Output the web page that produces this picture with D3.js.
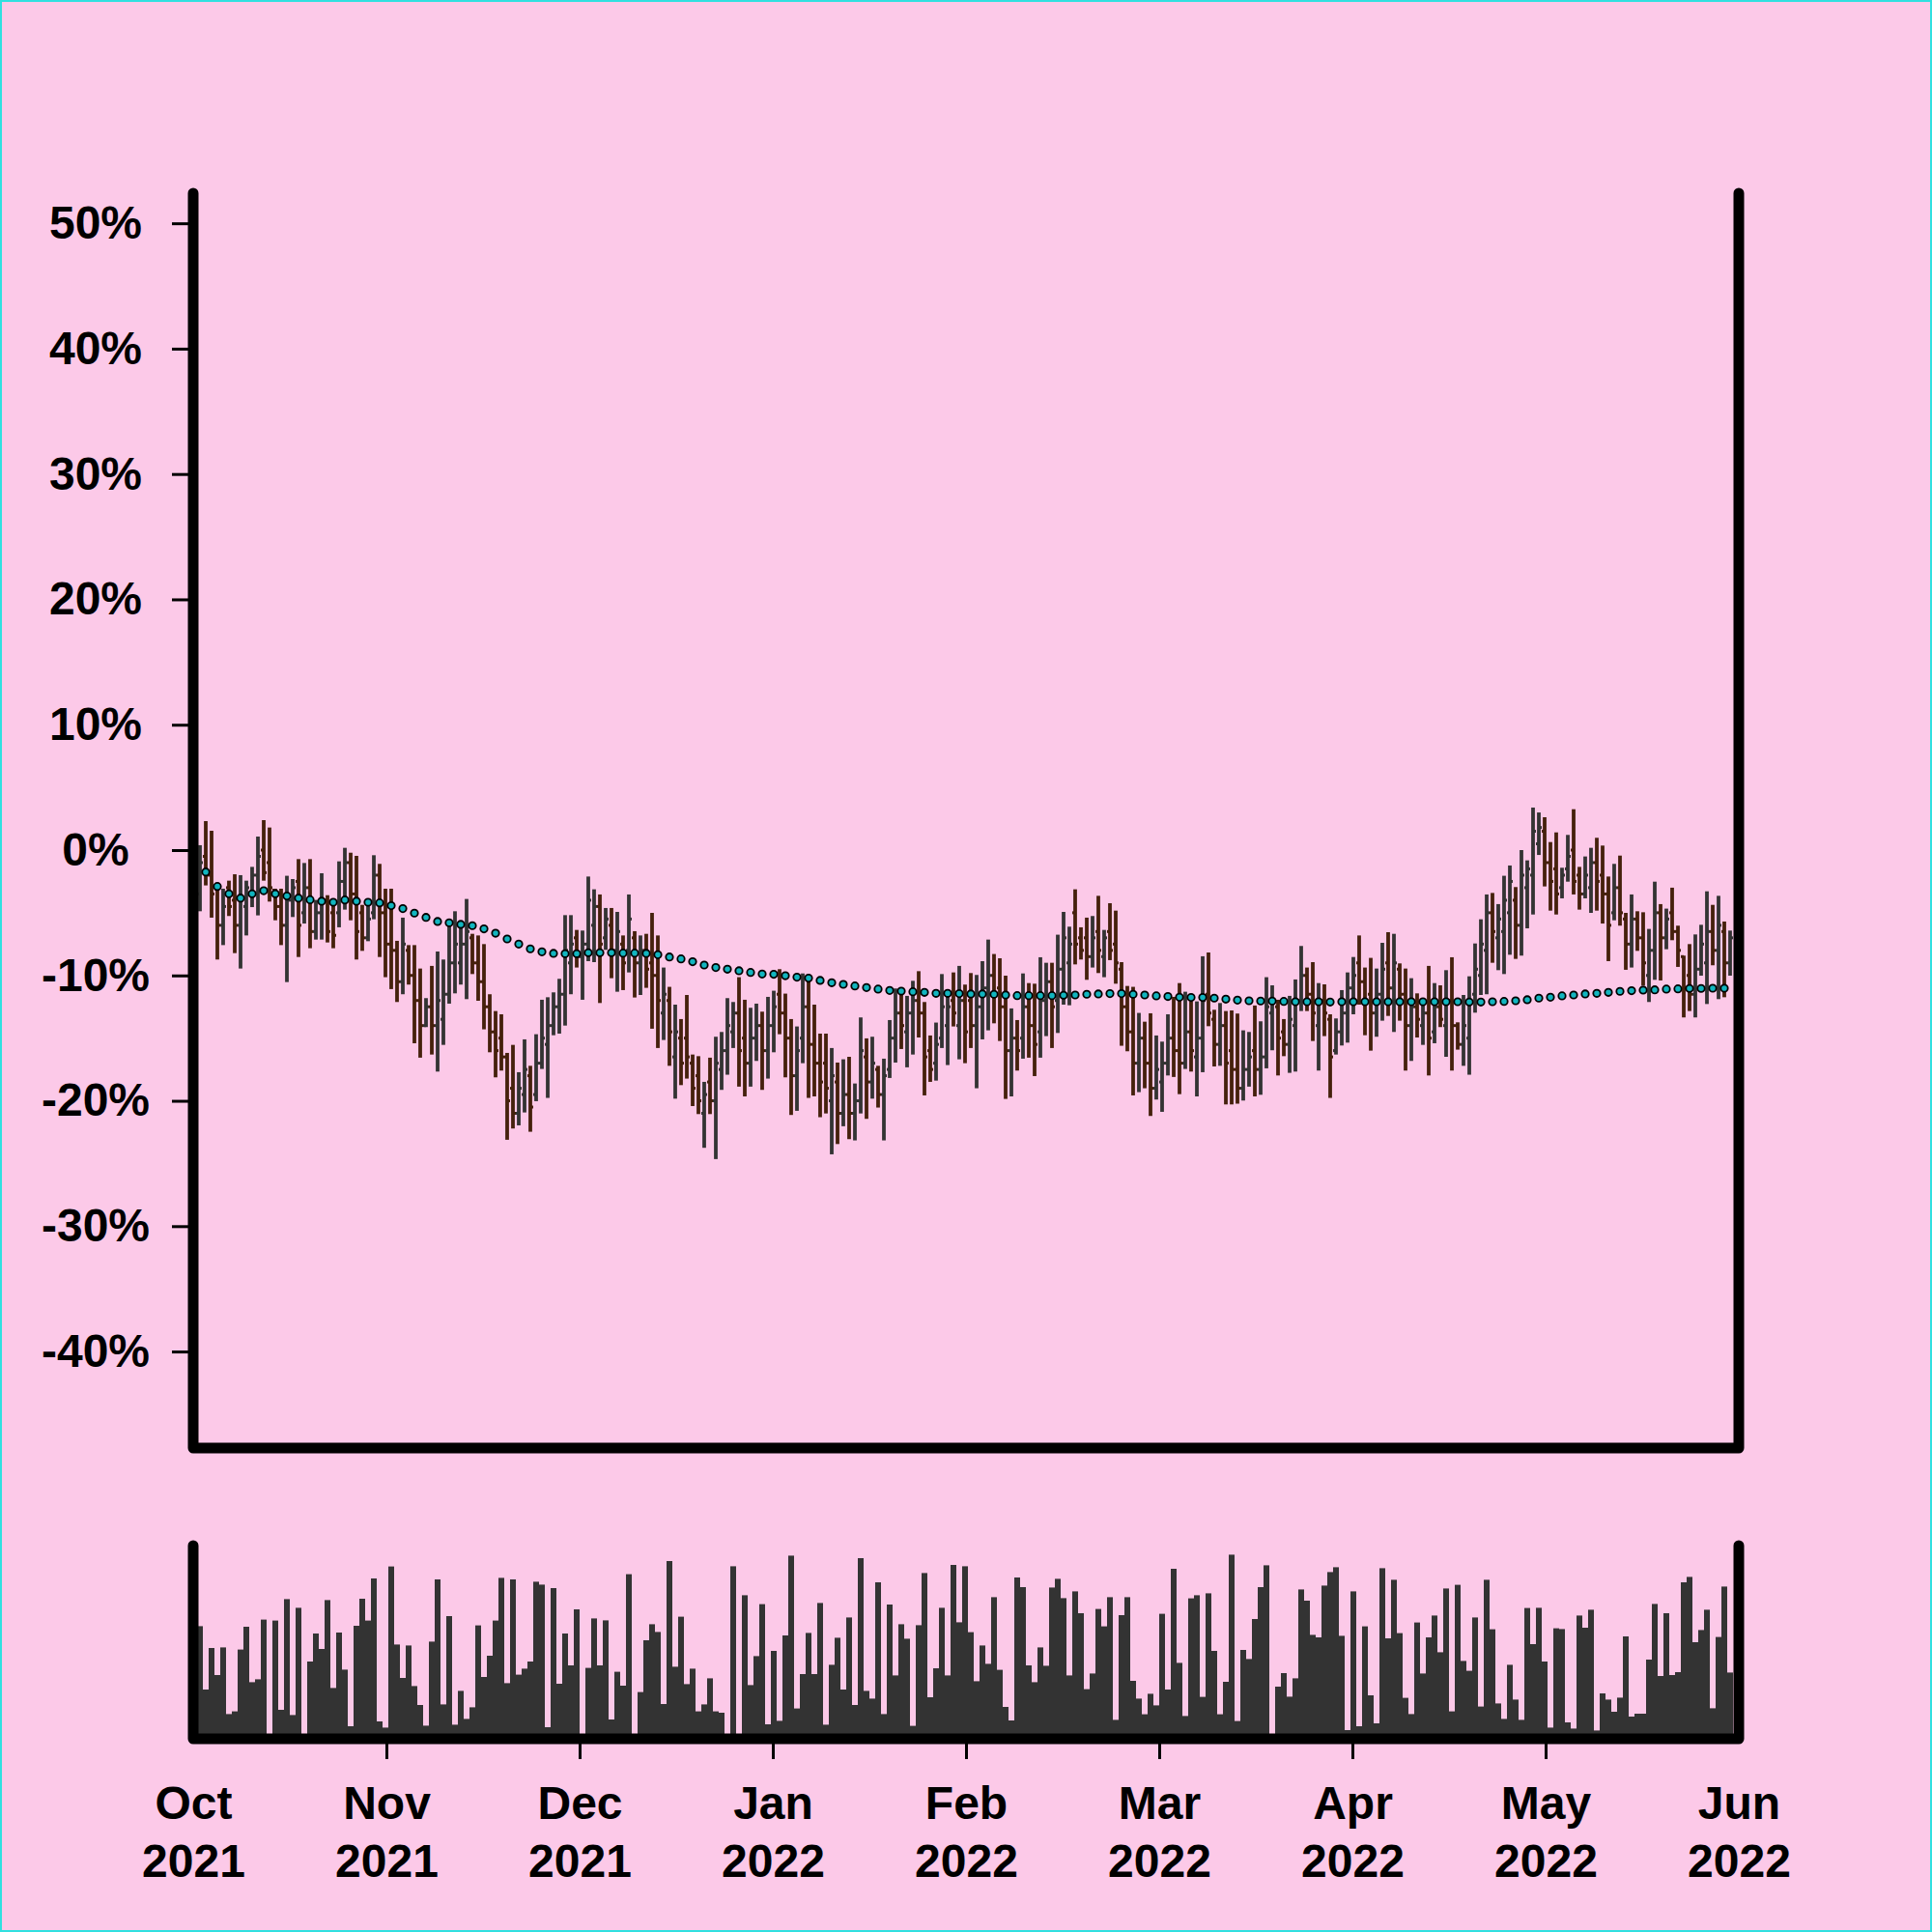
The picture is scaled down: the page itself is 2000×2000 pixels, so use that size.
<!DOCTYPE html>
<html><head><meta charset="utf-8">
<script src="https://cdn.jsdelivr.net/npm/d3@7"></script>
<style>html,body{margin:0;padding:0;background:#FCC9E8;}svg{display:block}</style>
</head><body>
<svg id="chart" width="2000" height="2000"></svg>
<script>
// ---- data (percent change) ----
const high=[0.39,2.31,1.54,-3.08,-3.08,-2.44,-1.93,-2.00,-2.44,-1.34,
1.08,2.39,1.80,-3.08,-3.08,-2.05,-2.31,-0.72,-1.03,-0.72,
-3.98,-1.85,-3.60,-4.24,-0.90,0.18,-0.21,-0.46,-4.37,-4.37,
-0.41,-1.10,-3.08,-3.08,-7.24,-5.39,-7.58,-7.58,-9.45,-11.81,
-9.24,-8.09,-8.73,-5.65,-4.88,-6.03,-3.90,-6.68,-6.81,-7.50,
-11.50,-12.84,-13.10,-16.18,-15.54,-17.72,-15.10,-17.21,-14.69,-11.94,
-11.74,-11.35,-10.27,-5.19,-5.19,-6.37,-6.42,-2.11,-3.13,-3.54,
-4.62,-4.62,-4.93,-6.81,-3.54,-6.47,-6.81,-6.68,-5.01,-6.81,
-9.37,-10.91,-12.33,-13.48,-11.56,-16.31,-16.44,-18.49,-16.56,-14.89,
-14.51,-11.81,-12.12,-10.14,-11.94,-12.58,-12.25,-12.89,-11.71,-11.22,
-9.50,-11.45,-13.48,-14.07,-9.84,-10.22,-12.33,-14.64,-14.64,-15.79,
-16.95,-16.69,-16.49,-18.62,-13.35,-15.02,-14.89,-17.21,-16.64,-13.56,
-11.04,-11.09,-11.63,-10.43,-9.66,-12.12,-14.79,-13.76,-9.89,-11.30,
-9.76,-9.24,-10.73,-9.81,-9.96,-8.86,-7.14,-8.29,-8.63,-10.02,
-12.63,-13.56,-9.84,-10.61,-10.66,-8.55,-8.99,-8.99,-6.75,-4.93,
-6.11,-3.13,-6.16,-5.39,-5.26,-3.65,-6.37,-4.24,-4.83,-8.94,
-10.84,-10.91,-12.99,-13.69,-13.02,-14.79,-15.28,-13.10,-11.71,-10.61,
-11.30,-12.07,-12.07,-8.47,-8.17,-12.74,-12.20,-12.84,-12.79,-13.04,
-14.38,-14.51,-12.40,-13.66,-10.14,-10.79,-11.94,-13.48,-11.63,-10.32,
-7.65,-9.37,-8.94,-10.61,-10.71,-13.10,-13.43,-11.17,-9.76,-8.53,
-6.81,-9.37,-8.60,-9.45,-7.40,-6.55,-6.68,-9.04,-9.45,-10.22,
-11.43,-12.20,-9.24,-10.61,-10.79,-9.58,-8.55,-13.74,-11.56,-10.07,
-7.45,-5.52,-3.54,-3.42,-4.31,-2.05,-1.23,-2.95,0.00,-0.82,
3.39,3.00,2.62,0.64,1.41,-1.41,1.21,3.26,-1.34,-0.51,
0.18,0.98,0.36,-2.11,-1.10,-0.44,-5.01,-3.54,-4.88,-4.96,
-6.29,-2.52,-4.31,-4.67,-3.00,-6.03,-8.42,-7.50,-6.73,-5.96,
-3.29,-4.37,-3.65,-5.70,-6.42];

const low=[-4.88,-2.82,-5.39,-8.73,-7.58,-5.26,-8.22,-9.45,-6.81,-4.55,
-5.21,-2.44,-4.11,-5.60,-7.58,-10.53,-5.34,-8.53,-5.86,-7.83,
-7.14,-7.14,-7.37,-7.83,-6.16,-4.75,-5.60,-8.73,-8.04,-7.27,
-5.52,-8.53,-10.14,-11.09,-12.12,-11.50,-10.73,-15.41,-16.56,-14.12,
-16.31,-17.67,-15.54,-12.25,-11.43,-10.73,-11.89,-9.89,-12.02,-14.30,
-16.13,-18.13,-17.59,-23.11,-22.21,-21.96,-20.93,-22.47,-20.03,-17.46,
-19.77,-14.77,-14.64,-14.00,-11.50,-9.37,-11.94,-8.86,-8.94,-12.20,
-7.96,-10.22,-11.30,-11.17,-9.76,-11.76,-11.56,-10.99,-14.25,-15.79,
-15.15,-17.21,-19.83,-18.75,-18.23,-20.42,-21.06,-23.75,-21.06,-24.65,
-19.13,-17.92,-15.79,-18.87,-19.65,-18.87,-16.82,-19.13,-18.23,-16.13,
-14.69,-18.13,-21.13,-20.80,-17.00,-19.77,-19.65,-21.31,-21.01,-24.27,
-23.45,-22.03,-23.06,-23.16,-21.01,-21.44,-19.83,-20.54,-23.16,-18.18,
-16.95,-15.87,-17.33,-16.31,-14.95,-19.57,-18.49,-18.39,-15.79,-17.15,
-14.07,-16.69,-17.00,-15.79,-19.00,-15.10,-14.38,-13.82,-15.23,-19.85,
-19.65,-17.59,-16.64,-16.56,-18.03,-16.56,-14.84,-15.79,-14.59,-12.33,
-12.38,-9.12,-8.73,-10.35,-9.37,-9.81,-10.14,-8.78,-10.66,-15.61,
-16.05,-19.57,-19.31,-19.00,-21.21,-19.90,-20.88,-17.98,-18.10,-19.47,
-17.46,-17.67,-19.65,-17.72,-14.05,-17.26,-17.21,-20.29,-20.29,-20.23,
-19.98,-18.87,-19.65,-19.52,-17.41,-15.97,-17.98,-16.44,-17.77,-17.67,
-12.84,-12.84,-15.23,-17.59,-14.84,-19.77,-16.31,-15.59,-15.36,-13.10,
-12.33,-14.77,-16.00,-14.89,-13.61,-13.23,-14.51,-13.61,-17.59,-16.82,
-14.95,-15.54,-17.98,-15.41,-14.12,-16.49,-17.59,-15.92,-17.21,-17.92,
-12.97,-11.56,-11.50,-8.99,-9.58,-9.89,-8.35,-8.68,-8.42,-6.24,
-5.14,-0.39,-2.90,-4.83,-5.14,-3.85,-2.52,-3.54,-4.75,-3.85,
-5.01,-4.83,-5.86,-8.86,-5.60,-6.03,-9.55,-9.37,-8.04,-10.79,
-12.12,-10.35,-10.40,-7.91,-7.19,-9.32,-13.35,-12.84,-13.35,-10.02,
-12.28,-9.19,-11.89,-11.74,-10.02];

const open=[-3.5,-0.5,-2.0,-3.1,-6.0,-3.0,-4.0,-6.0,-4.5,-3.5,
-2.0,0.0,-1.0,-3.2,-4.5,-6.0,-4.0,-2.5,-5.0,-3.0,
-6.5,-5.0,-4.0,-5.0,-5.0,-2.5,-1.0,-3.5,-5.0,-7.0,
-5.0,-2.0,-5.0,-7.5,-8.0,-10.5,-8.0,-10.0,-12.0,-14.0,
-12.5,-14.0,-13.5,-11.5,-9.0,-9.0,-7.5,-7.0,-9.0,-10.5,
-12.5,-14.5,-15.0,-16.5,-19.0,-21.0,-19.5,-18.0,-19.5,-17.0,
-15.5,-14.0,-12.5,-11.5,-9.0,-7.0,-8.5,-7.5,-6.0,-4.5,
-7.0,-6.0,-8.0,-7.5,-8.0,-7.0,-9.0,-8.0,-9.0,-10.0,
-13.0,-12.0,-16.5,-15.0,-15.0,-17.0,-18.0,-21.0,-18.5,-20.0,
-17.5,-16.0,-14.5,-13.0,-15.0,-17.0,-15.0,-14.0,-16.0,-14.0,
-11.5,-13.0,-15.0,-18.0,-15.0,-12.5,-15.5,-17.0,-17.0,-20.0,
-18.5,-21.0,-19.5,-21.0,-20.0,-16.5,-18.5,-17.5,-19.5,-17.5,
-15.0,-13.0,-14.5,-13.0,-12.0,-13.0,-16.0,-17.0,-15.0,-14.0,
-12.0,-14.0,-12.0,-12.0,-14.0,-12.5,-11.0,-10.0,-11.0,-12.5,
-16.0,-15.0,-15.0,-12.5,-14.0,-14.5,-12.0,-10.5,-12.0,-9.5,
-9.0,-5.0,-7.0,-7.0,-8.5,-6.5,-8.5,-6.5,-7.5,-9.5,
-12.5,-14.5,-17.0,-15.0,-17.0,-19.0,-18.5,-17.0,-15.0,-16.0,
-17.0,-14.5,-16.5,-15.0,-11.5,-13.5,-15.5,-14.0,-16.0,-17.5,
-19.0,-17.5,-16.0,-17.5,-16.5,-13.0,-12.5,-14.5,-15.5,-14.0,
-12.0,-10.0,-11.5,-14.0,-12.0,-13.5,-16.0,-14.5,-13.0,-11.0,
-9.0,-10.5,-11.5,-13.0,-11.5,-9.0,-11.0,-9.5,-11.5,-14.0,
-12.5,-14.0,-13.0,-14.5,-12.5,-14.0,-12.0,-14.0,-15.5,-15.0,
-11.5,-10.0,-8.0,-5.0,-7.0,-6.5,-5.0,-4.0,-6.0,-3.0,
-2.0,0.5,1.5,-1.0,-1.5,-3.0,-1.5,0.0,-2.0,-3.5,
-3.0,-1.0,-2.0,-3.5,-5.0,-3.0,-5.5,-7.5,-5.5,-7.0,
-10.0,-8.0,-5.0,-7.0,-5.0,-6.5,-8.5,-10.0,-11.5,-9.5,
-9.0,-6.5,-8.0,-6.5,-9.0];

const close=[-1.0,-2.0,-3.5,-6.0,-4.5,-4.5,-6.0,-4.0,-3.0,-2.0,
-0.5,-1.8,-3.0,-4.5,-6.0,-4.0,-3.0,-6.0,-3.0,-6.5,
-5.0,-4.0,-6.5,-6.8,-2.5,-1.0,-3.5,-6.5,-7.0,-5.5,
-2.0,-5.0,-7.5,-8.0,-10.5,-7.5,-10.0,-12.0,-14.0,-12.5,
-14.0,-12.0,-11.5,-9.0,-7.5,-7.5,-6.5,-9.0,-10.5,-12.5,
-14.5,-16.0,-16.5,-20.0,-21.0,-19.0,-17.5,-20.5,-17.0,-15.0,
-14.0,-12.5,-11.5,-8.0,-7.5,-8.5,-7.5,-4.0,-4.5,-7.5,
-5.5,-8.0,-6.5,-9.0,-5.5,-9.0,-8.0,-9.5,-10.0,-12.0,
-11.5,-14.5,-14.5,-17.0,-16.5,-19.0,-20.0,-19.5,-20.0,-17.0,
-16.0,-14.0,-13.0,-16.0,-17.0,-15.0,-14.0,-16.0,-14.0,-12.5,
-13.0,-15.0,-18.0,-16.0,-12.5,-15.5,-17.0,-18.5,-19.0,-18.0,
-21.0,-19.5,-21.0,-20.0,-16.0,-18.5,-17.0,-19.5,-18.0,-15.0,
-13.0,-14.0,-13.0,-12.0,-13.0,-16.5,-17.5,-15.5,-12.5,-12.5,
-13.0,-12.0,-14.5,-14.0,-12.5,-11.0,-10.0,-11.5,-12.5,-16.0,
-15.0,-16.0,-12.5,-14.0,-15.5,-12.0,-10.5,-12.5,-9.5,-7.0,
-7.5,-7.5,-8.0,-8.5,-7.0,-8.0,-7.0,-8.0,-9.0,-12.5,
-14.5,-17.0,-15.0,-17.0,-19.0,-17.5,-17.0,-15.0,-16.0,-17.0,
-14.5,-16.0,-15.0,-12.0,-13.0,-15.5,-14.0,-17.0,-17.5,-19.0,
-17.5,-16.5,-17.5,-16.5,-12.5,-12.0,-15.0,-15.5,-13.5,-12.0,
-10.0,-11.5,-13.0,-12.0,-13.0,-16.5,-14.5,-13.0,-11.0,-10.0,
-10.5,-12.0,-13.0,-11.5,-9.5,-11.0,-9.0,-11.5,-14.0,-12.5,
-13.5,-13.0,-15.0,-12.5,-13.5,-12.0,-14.0,-15.5,-14.0,-12.0,
-9.5,-7.5,-5.0,-6.5,-5.5,-4.0,-2.5,-6.0,-2.0,-1.5,
1.5,1.8,-1.0,-2.5,-3.5,-2.0,-0.5,-2.5,-3.5,-2.0,
-1.0,-2.5,-3.5,-6.0,-3.0,-5.0,-7.5,-5.5,-7.0,-9.0,
-8.0,-5.0,-7.0,-5.5,-6.5,-8.0,-11.0,-11.5,-9.5,-7.5,
-6.5,-8.0,-6.0,-9.0,-7.0];

const volume=[58.3,25.5,47,33,47.3,12.8,14.2,46.2,58,29.3,
30.8,61.7,0.5,61.2,15,72.3,12.3,67.8,0.5,40,
54.5,46.5,71.8,26.3,55,35.8,6.5,58.5,72.5,61.2,
83,9,5.8,89.2,48.8,31.5,48.3,27.3,17.5,6.8,
50.3,82.5,17.8,63.5,7.3,24.8,10.3,16.3,58.7,32,
43,61.2,83.3,28.8,82.5,33.2,36.3,40,81.3,79.8,
6,78,28.5,54.5,38,67,0.5,36.7,62.3,38,
61.3,10,34.7,27.5,85.2,0.5,24.2,51,59.3,55.3,
18,92,37.3,63.2,28.3,36.3,14.2,17.8,31.3,14.2,
13.5,0.5,89.3,0.5,74.3,27.8,42.8,69.7,7.5,45.5,
9.3,53.5,94.8,15.7,33.5,54.8,33.5,70.3,7.3,38.3,
52.3,25.5,62.8,17.5,93.5,24.8,20.8,81,12.8,69.5,
32.8,59.3,51.8,6.7,58.8,85.8,21.5,36.5,67.8,32.8,
90,60.3,89.3,55.2,29.8,48.3,38.8,73.3,35.7,16.5,
9.5,83.5,78.5,38,29.3,47.3,37.8,78.3,82.8,72.8,
32.8,76.3,65,25.7,33.8,67.2,58.2,73.3,9.8,64,
73.3,30,20.8,12.7,23.3,17.3,64.7,25.5,88,39.3,
11.8,72.7,74.3,21.7,75.3,45.5,12.7,29.5,95.3,9.2,
46,41.3,62,78.5,89.8,0.5,27,34,21.8,31.3,
77.3,71.5,53.8,52.5,79.3,86.3,88.8,53.3,4.5,76.3,
6.5,58.2,22.5,8,88.3,52,82.3,54.7,21.2,12.8,
60.2,33.8,52.5,63.8,44.8,77.8,14.2,79.7,40.3,35.2,
62.8,16.7,82.3,56.7,18.3,10.3,38.3,20.3,9.8,67.7,
49,67.8,40,5.8,57.2,56.8,8.5,5.3,63.8,57.5,
66.8,4.3,23.5,20.3,14,21.3,53,11.5,13,13,
41,69.8,32.5,65,33,34.5,81,83.8,50,56.3,
66.8,15.8,52.7,78.8,34.3];

// moving average, one value for every second bar (bars 1,3,5,...)
const movingAvg=[-1.75,-2.90,-3.49,-3.83,-3.49,-3.24,-3.49,-3.67,-3.83,-3.96,
-4.08,-4.16,-3.98,-4.08,-4.16,-4.21,-4.44,-4.67,-5.03,-5.37,
-5.70,-5.80,-5.93,-6.03,-6.29,-6.63,-7.09,-7.50,-7.88,-8.12,
-8.24,-8.27,-8.27,-8.19,-8.19,-8.19,-8.22,-8.22,-8.24,-8.35,
-8.53,-8.68,-8.91,-9.17,-9.37,
-9.50,-9.63,-9.76,-9.89,-9.91,-10.02,-10.14,-10.22,-10.40,-10.58,
-10.71,-10.84,-10.97,-11.09,-11.20,-11.25,-11.30,-11.35,-11.43,-11.43,
-11.45,-11.48,-11.48,-11.50,-11.56,-11.61,-11.61,-11.61,-11.61,-11.58,
-11.56,-11.50,-11.48,-11.45,-11.45,-11.50,-11.56,-11.63,-11.68,-11.74,
-11.76,-11.76,-11.81,-11.89,
-11.97,-12.02,-12.04,-12.04,-12.07,-12.10,-12.10,-12.10,-12.12,-12.10,
-12.10,-12.10,-12.10,-12.10,-12.10,-12.10,-12.10,-12.10,-12.10,-12.10,
-12.12,-12.12,-12.10,-12.07,-12.02,-11.94,-11.81,-11.74,-11.63,-11.56,
-11.48,-11.43,-11.35,-11.27,-11.22,-11.17,-11.15,-11.09,-11.07,-11.04,
-11.04,-11.02,-11.02];

const monthLabels=["Oct","Nov","Dec","Jan","Feb","Mar","Apr","May","Jun"];
const yearLabels=["2021","2021","2021","2022","2022","2022","2022","2022","2022"];
const yTicks=[-40,-30,-20,-10,0,10,20,30,40,50];

// ---- drawing ----
const W=2000,H=2000;
const BG="#FCC9E8", UP="#333333", DOWN="#45200c", MA="#12b5bf";
const FONT="'Liberation Sans', Arial, Helvetica, sans-serif";
const svg=d3.select("#chart");
svg.append("rect").attr("x",1).attr("y",1).attr("width",W-2).attr("height",H-2)
  .attr("fill",BG).attr("stroke","#30e0e0").attr("stroke-width",2);

const idx=d3.range(high.length);
const x=d3.scaleLinear().domain([0,high.length-1]).range([207,1791]);
const y=d3.scaleLinear().domain([-47.7,52.4]).range([1499,200]);
const yv=d3.scaleLinear().domain([0,100]).range([1800,1600]);
const bw=x(1)-x(0);

// volume bars
svg.append("g").selectAll("rect").data(idx).join("rect")
  .attr("x",i=>x(i)-bw/2).attr("width",bw)
  .attr("y",i=>yv(volume[i])).attr("height",i=>yv(0)-yv(volume[i]))
  .attr("fill",UP);

// OHLC bars
const gB=svg.append("g").attr("stroke-width",3.8);
const col=i=>close[i]>=open[i]?UP:DOWN;
gB.selectAll("line.hl").data(idx).join("line").attr("class","hl")
  .attr("x1",i=>x(i)).attr("x2",i=>x(i))
  .attr("y1",i=>y(high[i])).attr("y2",i=>y(low[i]))
  .attr("stroke",col);
gB.selectAll("line.op").data(idx).join("line").attr("class","op")
  .attr("x1",i=>x(i)-bw/2).attr("x2",i=>x(i))
  .attr("y1",i=>y(open[i])).attr("y2",i=>y(open[i]))
  .attr("stroke",col).attr("stroke-width",3);
gB.selectAll("line.cl").data(idx).join("line").attr("class","cl")
  .attr("x1",i=>x(i)).attr("x2",i=>x(i)+bw/2)
  .attr("y1",i=>y(close[i])).attr("y2",i=>y(close[i]))
  .attr("stroke",col).attr("stroke-width",3);

// moving average dots
svg.append("g").selectAll("circle").data(movingAvg).join("circle")
  .attr("cx",(d,k)=>x(1+2*k)).attr("cy",d=>y(d)).attr("r",3.7)
  .attr("fill",MA).attr("stroke","#000").attr("stroke-width",1.8);

// y axis
const gy=svg.append("g").attr("transform","translate(200,0)")
  .call(d3.axisLeft(y).tickValues(yTicks).tickSize(22).tickFormat(d=>d+"%"));
gy.select(".domain").remove();
gy.selectAll(".tick line").attr("stroke","#000").attr("stroke-width",3);
gy.selectAll(".tick text").attr("x",-101).attr("text-anchor","middle")
  .attr("dy","0.32em").attr("fill","#000")
  .style("font-family",FONT).style("font-size","48px").style("font-weight","bold");

// x axis (month labels)
const xm=d3.scalePoint().domain(d3.range(monthLabels.length)).range([200,1800]);
const gx=svg.append("g").attr("transform","translate(0,1800)")
  .call(d3.axisBottom(xm).tickSize(21).tickFormat(""));
gx.select(".domain").remove();
gx.selectAll(".tick line").attr("stroke","#000").attr("stroke-width",3)
  .attr("display",d=>(d===0||d===monthLabels.length-1)?"none":null);
gx.selectAll(".tick").each(function(d){
  const t=d3.select(this).append("text").attr("text-anchor","middle").attr("fill","#000")
    .style("font-family",FONT).style("font-size","48px").style("font-weight","bold");
  t.append("tspan").attr("x",0).attr("y",83).text(monthLabels[d]);
  t.append("tspan").attr("x",0).attr("y",143).text(yearLabels[d]);
});

// frames
const frame=(pts)=>svg.append("path").attr("d",d3.line()(pts)).attr("fill","none")
  .attr("stroke","#000").attr("stroke-width",11)
  .attr("stroke-linecap","round").attr("stroke-linejoin","round");
frame([[200,200],[200,1499],[1800,1499],[1800,200]]);
frame([[200,1600],[200,1800],[1800,1800],[1800,1600]]);
</script>
</body></html>
